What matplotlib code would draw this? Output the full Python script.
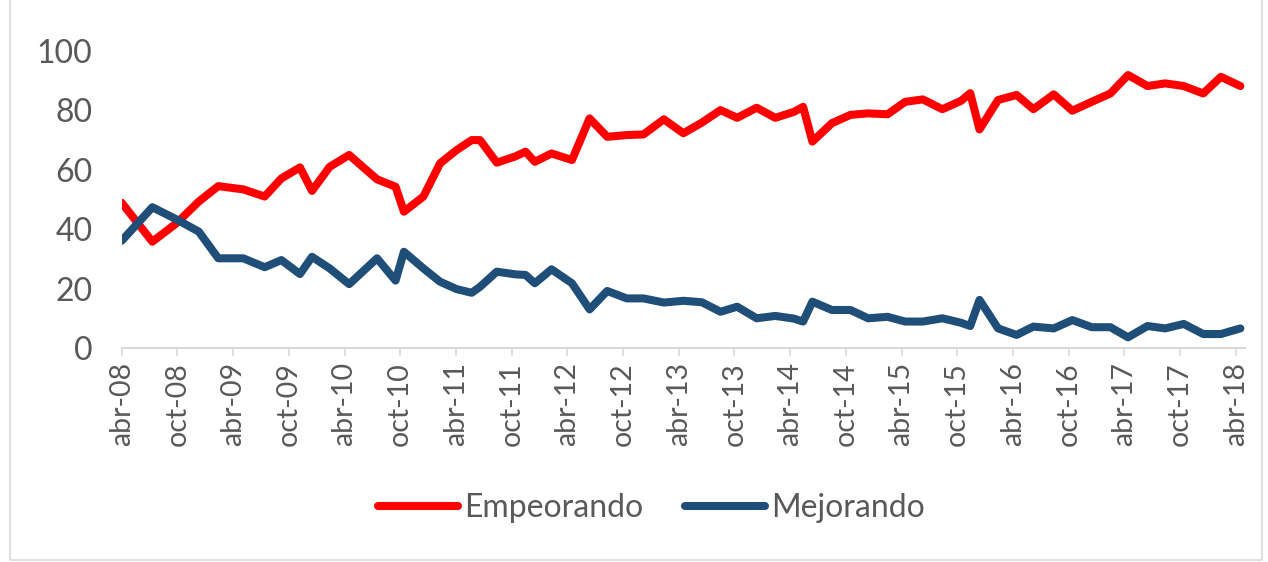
import matplotlib
matplotlib.use("Agg")
import matplotlib.pyplot as plt
from matplotlib.patches import Rectangle

# Survey positions, in months after April 2008
months = [0, 3.3, 5.9, 8.3, 10.4, 13.1, 15.4, 17.2, 19.2,
          20.5, 22.4, 24.5, 27.5, 29.5, 30.4, 32.5, 34.3, 36.1, 37.7, 38.6, 40.4,
          42.4, 43.5, 44.5, 46.3, 48.5, 50.4, 52.3, 54.4, 56.2, 58.4, 60.5,
          62.5, 64.5, 66.3, 68.4, 70.4, 72.4, 73.4, 74.4, 76.5, 78.5, 80.4,
          82.5, 84.4, 86.3, 88.4, 90.4, 91.4, 92.4, 94.4, 96.4, 98.2, 100.4,
          102.4, 104.5, 106.5, 108.4, 110.5, 112.4, 114.4, 116.5, 118.4, 120.5]

empeorando = [48.9, 35.8, 42, 49.3, 54.5, 53.4, 51, 57.1, 60.8,
              52.9, 61, 65, 56.8, 54.3, 45.9, 51, 62.2, 66.7, 70, 70, 62.4,
              64.5, 66.1, 62.7, 65.5, 63.3, 77.3, 71.1, 71.7, 71.9, 77, 72.3,
              75.9, 80.1, 77.5, 80.9, 77.5, 79.5, 81.2, 69.5, 75.7, 78.5, 79,
              78.7, 82.9, 83.7, 80.4, 83.2, 85.8, 73.6, 83.5, 85.2, 80.4, 85.4,
              79.9, 82.9, 85.7, 91.9, 88.2, 89.1, 88.2, 85.7, 91.3, 88.2]

mejorando = [36.1, 47.4, 43.3, 39.2, 30.2, 30.2, 27.2, 29.6, 24.9,
             30.7, 26.8, 21.5, 30.2, 22.7, 32.4, 26.8, 22.3, 19.8, 18.6, 20.6, 25.7,
             24.8, 24.6, 21.8, 26.5, 21.8, 13, 19.2, 16.7, 16.7, 15.3, 15.9,
             15.4, 12.2, 13.9, 10, 10.8, 9.9, 8.9, 15.6, 12.8, 12.8, 10,
             10.5, 8.9, 8.9, 10, 8.5, 7.4, 16.2, 6.6, 4.4, 7.2, 6.6,
             9.4, 7, 7, 3.6, 7.4, 6.6, 8.1, 4.7, 4.7, 6.6]

tick_months = list(range(0, 121, 6))
tick_labels = ["abr-08", "oct-08", "abr-09", "oct-09", "abr-10", "oct-10",
               "abr-11", "oct-11", "abr-12", "oct-12", "abr-13", "oct-13",
               "abr-14", "oct-14", "abr-15", "oct-15", "abr-16", "oct-16",
               "abr-17", "oct-17", "abr-18"]
y_ticks = [0, 20, 40, 60, 80, 100]

plt.rcParams['font.family'] = ['Lato', 'DejaVu Sans']
W, H = 1268, 562
fig = plt.figure(figsize=(W / 100, H / 100), dpi=100)
left, right = 121.7 / W, 1245 / W
bottom, top = (H - 348) / H, (H - 51) / H
ax = fig.add_axes([left, bottom, right - left, top - bottom])

text_color = '#595959'
axis_color = '#d9d9d9'

l1, = ax.plot(months, empeorando, color='#FF0000', lw=5.8, solid_joinstyle='round',
              solid_capstyle='round', label='Empeorando', zorder=3)
l2, = ax.plot(months, mejorando, color='#1F4E79', lw=5.8, solid_joinstyle='round',
              solid_capstyle='round', label='Mejorando', zorder=3)

ax.set_xlim(0, 121)
ax.set_ylim(0, 100)
ax.set_yticks(y_ticks)
ax.set_yticklabels([str(v) for v in y_ticks])
ax.set_xticks(tick_months)
ax.set_xticklabels(tick_labels, rotation=90, ha='center', va='top')

for s in ['top', 'right', 'left']:
    ax.spines[s].set_visible(False)
ax.spines['bottom'].set_color(axis_color)
ax.spines['bottom'].set_linewidth(1.5)
ax.spines['bottom'].set_zorder(1)

ax.tick_params(axis='y', length=0, pad=21, labelsize=23, labelcolor=text_color)
ax.tick_params(axis='x', length=6, width=1.2, color=axis_color, pad=4,
               labelsize=20.5, labelcolor=text_color)

leg = fig.legend(handles=[l1, l2], loc='center', bbox_to_anchor=(0.514, (H - 508) / H),
                 ncol=2, frameon=False, fontsize=23, handlelength=2.5,
                 handletextpad=0.2, columnspacing=1.3)
for t in leg.get_texts():
    t.set_color(text_color)

fig.patches.append(Rectangle((10 / W, 2 / H), 1252 / W, 1.2, transform=fig.transFigure,
                             fill=False, edgecolor=axis_color, lw=1.2))

fig.savefig('out.png', dpi=100, facecolor='white')
